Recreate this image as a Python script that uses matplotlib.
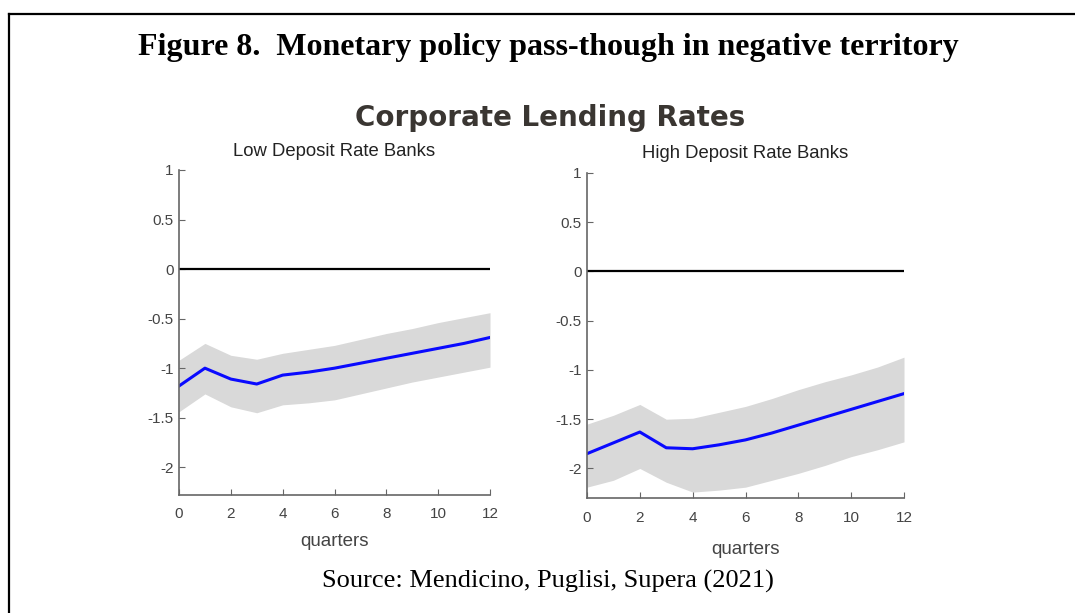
import matplotlib.pyplot as plt
from matplotlib.lines import Line2D

# Données (trimestres 0..12)
quarters = list(range(13))

low_mid = [-1.18, -1.00, -1.11, -1.16, -1.07, -1.04, -1.00, -0.95, -0.90, -0.85, -0.80, -0.75, -0.69]
low_up = [-0.92, -0.75, -0.87, -0.91, -0.85, -0.81, -0.77, -0.71, -0.65, -0.60, -0.54, -0.49, -0.44]
low_lo = [-1.44, -1.26, -1.39, -1.45, -1.37, -1.35, -1.32, -1.26, -1.20, -1.14, -1.09, -1.04, -0.99]

high_mid = [-1.85, -1.74, -1.63, -1.79, -1.80, -1.76, -1.71, -1.64, -1.56, -1.48, -1.40, -1.32, -1.24]
high_up = [-1.55, -1.46, -1.35, -1.50, -1.49, -1.43, -1.37, -1.29, -1.20, -1.12, -1.05, -0.97, -0.87]
high_lo = [-2.19, -2.12, -2.00, -2.14, -2.24, -2.22, -2.19, -2.12, -2.05, -1.97, -1.88, -1.81, -1.73]

yticks = [-2, -1.5, -1, -0.5, 0, 0.5, 1]
ytick_labels = ['-2', '-1.5', '-1', '-0.5', '0', '0.5', '1']
xticks = [0, 2, 4, 6, 8, 10, 12]

fig = plt.figure(figsize=(10.75, 6.13), dpi=100)

# Cadre du document
fig.add_artist(Line2D([9 / 1075, 1.0], [1 - 14 / 613, 1 - 14 / 613], color='black', lw=1.6))
fig.add_artist(Line2D([9 / 1075, 9 / 1075], [1 - 14 / 613, 0.0], color='black', lw=1.6))

fig.text(0.51, 1 - 47 / 613, 'Figure 8.  Monetary policy pass-though in negative territory',
         ha='center', va='center', family='Liberation Serif', weight='bold', fontsize=23)
fig.text(0.512, 1 - 118 / 613, 'Corporate Lending Rates', ha='center', va='center',
         family='DejaVu Sans', weight='bold', fontsize=20, color='#3a3632')
fig.text(0.51, 1 - 581 / 613, 'Source: Mendicino, Puglisi, Supera (2021)', ha='center', va='center',
         family='Liberation Serif', fontsize=19)

panels = [
    ([179, 490, 170, 495], -2.28, low_mid, low_up, low_lo, 'Low Deposit Rate Banks', 151, 541),
    ([587, 904, 173, 498], -2.30, high_mid, high_up, high_lo, 'High Deposit Rate Banks', 153, 549),
]

for (x0, x1, top, bot), ymin, mid, up, lo, title, ty, qy in panels:
    ax = fig.add_axes([x0 / 1075, 1 - bot / 613, (x1 - x0) / 1075, (bot - top) / 613])
    ax.fill_between(quarters, lo, up, color='#d9d9d9', lw=0)
    ax.plot([0, 12], [0, 0], color='black', lw=1.6)
    ax.plot(quarters, mid, color='#0a0aff', lw=2.2)
    ax.set_xlim(0, 12)
    ax.set_ylim(ymin, 1)
    ax.set_xticks(xticks)
    ax.set_yticks(yticks)
    ax.set_yticklabels(ytick_labels)
    for s in ['top', 'right']:
        ax.spines[s].set_visible(False)
    for s in ['left', 'bottom']:
        ax.spines[s].set_color('#666666')
        ax.spines[s].set_linewidth(1.2)
    ax.tick_params(direction='in', length=4, color='#666666', labelcolor='#444444', labelsize=11)
    ax.tick_params(axis='x', pad=9)
    ax.tick_params(axis='y', pad=4)
    for lab in ax.get_xticklabels() + ax.get_yticklabels():
        lab.set_family('Liberation Sans')
    cx = (x0 + x1) / 2 / 1075
    fig.text(cx, 1 - ty / 613, title, ha='center', va='center', family='Liberation Sans',
             fontsize=13.3, color='#222222')
    fig.text(cx, 1 - qy / 613, 'quarters', ha='center', va='center', family='Liberation Sans',
             fontsize=13.5, color='#444444')

fig.savefig('out.png', dpi=100)
